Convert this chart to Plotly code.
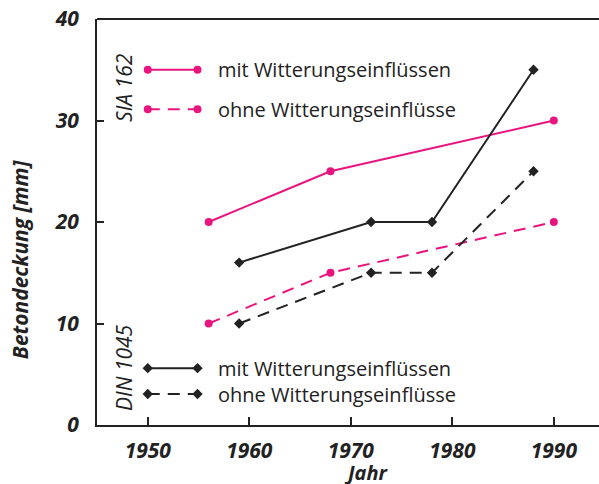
import plotly.graph_objects as go

# --- data ---
sia_years = [1956, 1968, 1990]
sia_mit = [20, 25, 30]
sia_ohne = [10, 15, 20]

din_years = [1959, 1972, 1978, 1988]
din_mit = [16, 20, 20, 35]
din_ohne = [10, 15, 15, 25]

x_ticks = [1950, 1960, 1970, 1980, 1990]
y_ticks = [0, 10, 20, 30, 40]

legend_labels = ["mit Witterungseinflüssen", "ohne Witterungseinflüsse"]

PINK = "#e8157f"
DARK = "#222222"
FONT = "Open Sans"

fig = go.Figure()

def series(x, y, color, dash, symbol, msize):
    fig.add_trace(go.Scatter(
        x=x, y=y, mode="lines+markers",
        line=dict(color=color, width=2, dash=dash),
        marker=dict(color=color, symbol=symbol, size=msize),
        showlegend=False, hoverinfo="skip"))

series(sia_years, sia_mit, PINK, "solid", "circle", 8)
series(sia_years, sia_ohne, PINK, "12px,8px", "circle", 8)
series(din_years, din_mit, DARK, "solid", "diamond", 8)
series(din_years, din_ohne, DARK, "12px,8px", "diamond", 8)

# legend samples (drawn inside plot)
leg_x = [1950, 1954.9]
leg_text_x = 1956.7
legend_rows = [
    (35.0, PINK, "solid", "circle", legend_labels[0]),
    (31.1, PINK, "12px,8px", "circle", legend_labels[1]),
    (5.6, DARK, "solid", "diamond", legend_labels[0]),
    (3.05, DARK, "12px,8px", "diamond", legend_labels[1]),
]
for yv, col, dash, sym, label in legend_rows:
    series(leg_x, [yv, yv], col, dash, sym, 8)
    fig.add_annotation(x=leg_text_x, y=yv, text=label, showarrow=False,
                       xanchor="left", yanchor="middle",
                       font=dict(family=FONT, size=20, color=DARK))

# standard labels
fig.add_annotation(x=1947.65, y=33.3, text="SIA 162", textangle=-90, showarrow=False,
                   font=dict(family=FONT, size=21, color=DARK, style="italic"))
fig.add_annotation(x=1947.65, y=5.7, text="DIN 1045", textangle=-90, showarrow=False,
                   font=dict(family=FONT, size=21, color=DARK, style="italic"))

# axis titles
fig.add_annotation(xref="paper", yref="paper", x=-0.153, y=0.409,
                   xanchor="center", yanchor="middle",
                   text="Betondeckung [mm]", textangle=-90, showarrow=False,
                   font=dict(family=FONT, size=21, color=DARK, style="italic", weight="bold"))
fig.add_annotation(xref="paper", yref="paper", x=0.536, y=-0.118,
                   xanchor="center", yanchor="middle",
                   text="Jahr", showarrow=False,
                   font=dict(family=FONT, size=20, color=DARK, style="italic", weight="bold"))

# top border
fig.add_shape(type="line", xref="paper", yref="paper", x0=0, x1=1, y0=1, y1=1,
              line=dict(color=DARK, width=2))

tickfont = dict(family=FONT, size=21, color=DARK, style="italic", weight="bold")

fig.update_layout(
    width=599, height=484,
    margin=dict(l=97, r=0, t=19, b=59, autoexpand=False),
    paper_bgcolor="white", plot_bgcolor="white",
    xaxis=dict(range=[1945, 1994.45], tickvals=x_ticks, ticktext=[str(v) for v in x_ticks],
               ticks="inside", ticklen=8, tickwidth=1.5, tickcolor=DARK,
               showline=True, linecolor=DARK, linewidth=2, showgrid=False, zeroline=False,
               tickfont=tickfont, ticklabelstandoff=6, automargin=False),
    yaxis=dict(range=[0, 40], tickvals=y_ticks, ticktext=[str(v) for v in y_ticks],
               ticks="inside", ticklen=7, tickwidth=1.5, tickcolor=DARK,
               showline=True, linecolor=DARK, linewidth=2, showgrid=False, zeroline=False,
               tickfont=tickfont, ticklabelstandoff=12, automargin=False),
)

fig.write_html(
    "out.html",
    config={"displayModeBar": False},
    post_script="document.body.style.margin='0';document.body.style.padding='0';"
                "document.body.style.overflow='hidden';",
)
